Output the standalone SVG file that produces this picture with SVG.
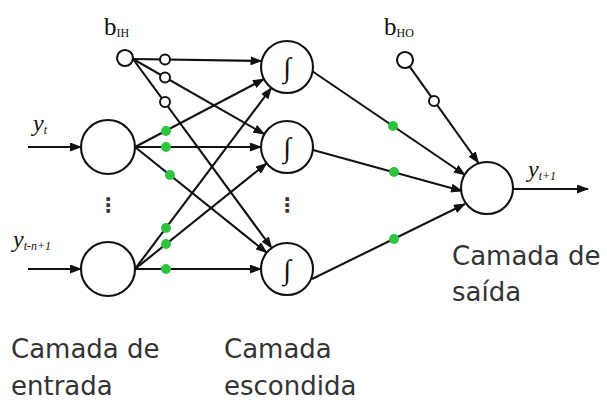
<svg xmlns="http://www.w3.org/2000/svg" width="607" height="405" viewBox="0 0 607 405">
<defs>
<marker id="arr" markerUnits="userSpaceOnUse" markerWidth="12" markerHeight="9" refX="11" refY="4.5" orient="auto">
<path d="M0,0 L12,4.5 L0,9 z" fill="#111"/>
</marker>
<style>
.ln{stroke:#111;stroke-width:2.1;fill:none}
.a{marker-end:url(#arr)}
.node{fill:#fff;stroke:#111;stroke-width:2.1}
.sm{fill:#fff;stroke:#111;stroke-width:2}
.g{fill:#2fc43f}
.sym{font-family:"Liberation Serif",serif;fill:#111}
.it{font-style:italic}
.lab{font-family:"DejaVu Sans",sans-serif;font-size:26px;fill:#333}
.dots{font-family:"DejaVu Sans",sans-serif;font-size:20px;font-weight:bold;fill:#333;text-anchor:middle}
</style>
</defs>
<rect width="607" height="405" fill="#fff"/>
<g id="connectors">
<line class="ln a" x1="28" y1="147" x2="81" y2="147"/>
<line class="ln a" x1="28" y1="269" x2="81" y2="269"/>
<line class="ln a" x1="135" y1="147" x2="264" y2="79"/>
<line class="ln a" x1="135" y1="147" x2="261" y2="147"/>
<line class="ln a" x1="135" y1="147" x2="266.7" y2="252.7"/>
<line class="ln a" x1="135" y1="269" x2="271.4" y2="87.8"/>
<line class="ln a" x1="135" y1="269" x2="266.7" y2="163.3"/>
<line class="ln a" x1="135" y1="269" x2="261" y2="269"/>
<line class="ln a" x1="133" y1="59" x2="261.5" y2="61"/>
<line class="ln a" x1="133" y1="59" x2="264.4" y2="134.2"/>
<line class="ln a" x1="133" y1="59" x2="271.7" y2="248"/>
<line class="ln a" x1="312" y1="71" x2="465" y2="175"/>
<line class="ln a" x1="313" y1="150" x2="462" y2="191"/>
<line class="ln a" x1="312" y1="279" x2="465" y2="204"/>
<line class="ln a" x1="409.5" y1="66.3" x2="478.5" y2="163"/>
<line class="ln a" x1="513" y1="189" x2="588" y2="189"/>
<circle class="g" cx="166" cy="131" r="5"/>
<circle class="g" cx="166" cy="147" r="5"/>
<circle class="g" cx="170" cy="175" r="5"/>
<circle class="g" cx="166" cy="228" r="5"/>
<circle class="g" cx="166" cy="244" r="5"/>
<circle class="g" cx="166" cy="269" r="5"/>
<circle class="g" cx="393" cy="126" r="5"/>
<circle class="g" cx="394" cy="172" r="5"/>
<circle class="g" cx="394" cy="239" r="5"/>
</g>
<g id="bias-ih">
<circle class="node" cx="125" cy="58" r="8"/>
<circle class="sm" cx="165" cy="59.5" r="5"/>
<circle class="sm" cx="165" cy="77.5" r="5"/>
<circle class="sm" cx="165" cy="102" r="5"/>
<text class="sym" x="104" y="35" font-size="25">b<tspan font-size="12" dy="2">IH</tspan></text>
</g>
<g id="bias-ho">
<circle class="node" cx="405" cy="60" r="8"/>
<circle class="sm" cx="434" cy="101" r="5"/>
<text class="sym" x="384" y="35" font-size="25">b<tspan font-size="12" dy="2">HO</tspan></text>
</g>
<g id="input-1">
<circle class="node" cx="108" cy="147" r="27"/>
<text class="sym it" x="33" y="131" font-size="24">y<tspan font-size="12" dy="3">t</tspan></text>
</g>
<g id="input-n">
<circle class="node" cx="108" cy="269" r="27"/>
<text class="sym it" x="13" y="247" font-size="24">y<tspan font-size="12" dy="3">t-n+1</tspan></text>
</g>
<text class="dots" x="108" y="212">⋮</text>
<g id="hidden-1">
<circle class="node" cx="287" cy="67" r="26"/>
<text class="sym" x="287" y="77" font-size="28" text-anchor="middle">∫</text>
</g>
<g id="hidden-2">
<circle class="node" cx="287" cy="147" r="26"/>
<text class="sym" x="287" y="157" font-size="28" text-anchor="middle">∫</text>
</g>
<text class="dots" x="287" y="212">⋮</text>
<g id="hidden-3">
<circle class="node" cx="287" cy="269" r="26"/>
<text class="sym" x="287" y="279" font-size="28" text-anchor="middle">∫</text>
</g>
<g id="output">
<circle class="node" cx="487" cy="188" r="26"/>
<text class="sym it" x="528" y="177" font-size="24">y<tspan font-size="12" dy="3">t+1</tspan></text>
</g>
<g id="labels">
<text class="lab" x="11" y="358">Camada de</text>
<text class="lab" x="11" y="395">entrada</text>
<text class="lab" x="224" y="358">Camada</text>
<text class="lab" x="224" y="395">escondida</text>
<text class="lab" x="452" y="265">Camada de</text>
<text class="lab" x="452" y="301">saída</text>
</g>
</svg>
